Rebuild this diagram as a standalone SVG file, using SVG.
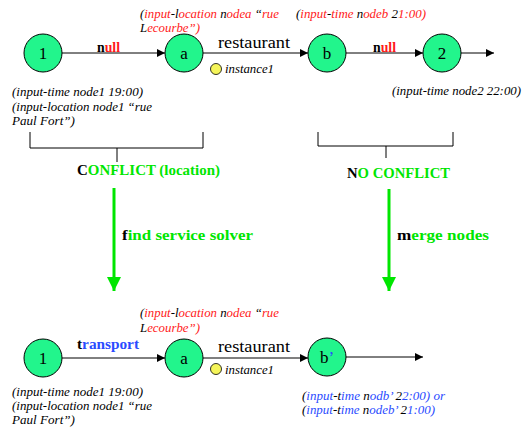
<svg xmlns="http://www.w3.org/2000/svg" width="525" height="430" viewBox="0 0 525 430">
<defs>
<marker id="ah" viewBox="0 0 10 10" refX="10" refY="5" markerWidth="10" markerHeight="8" markerUnits="userSpaceOnUse" orient="auto"><path d="M0,0 L10,5 L0,10 z" fill="#000"/></marker>
<marker id="gh" viewBox="0 0 10 10" refX="10" refY="5" markerWidth="15" markerHeight="14" markerUnits="userSpaceOnUse" orient="auto"><path d="M0,0 L10,5 L0,10 z" fill="#00e600"/></marker>
</defs>
<style>
text{font-family:'Liberation Serif','Times New Roman',serif}
.node{fill:#22f58c;stroke:#000;stroke-width:1}
.nl{font-size:17px;fill:#000;text-anchor:middle}
.it{font-size:13px;font-style:italic;fill:#000}
.lb{font-size:14px;font-weight:bold;fill:#000}
.rs{font-size:16px;fill:#000}
.r{fill:#ff1a1a}
.b{fill:#2a4bff}
.g{fill:#00e600}
.edge{stroke:#000;stroke-width:1;fill:none}
.br{stroke:#000;stroke-width:1;fill:none}
.ga{stroke:#00e600;stroke-width:3;fill:none}
.inst{fill:#f5f55a;stroke:#000;stroke-width:0.8}
</style>
<rect width="525" height="430" fill="#fff"/>
<g id="connectors">
<line class="edge" x1="62" y1="53" x2="165" y2="53" marker-end="url(#ah)"/>
<line class="edge" x1="203" y1="53" x2="308" y2="53" marker-end="url(#ah)"/>
<line class="edge" x1="346" y1="53" x2="423" y2="53" marker-end="url(#ah)"/>
<line class="edge" x1="461" y1="53" x2="494" y2="53" marker-end="url(#ah)"/>
<line class="edge" x1="62" y1="358" x2="165" y2="358" marker-end="url(#ah)"/>
<line class="edge" x1="203" y1="358" x2="308" y2="358" marker-end="url(#ah)"/>
<line class="edge" x1="346" y1="357" x2="423" y2="357" marker-end="url(#ah)"/>
<polyline class="br" points="30,132 30,148 203,148 203,132"/>
<line class="br" x1="117" y1="148" x2="117" y2="162"/>
<polyline class="br" points="318,132 318,146 453,146 453,132"/>
<line class="br" x1="386" y1="146" x2="386" y2="158"/>
<line class="ga" x1="114" y1="188" x2="114" y2="291" marker-end="url(#gh)"/>
<line class="ga" x1="389" y1="189" x2="389" y2="291" marker-end="url(#gh)"/>
</g>
<g id="n1top"><circle class="node" cx="43" cy="53" r="19"/><text class="nl" x="43" y="59">1</text></g>
<g id="natop"><circle class="node" cx="184" cy="53" r="19"/><text class="nl" x="184" y="59">a</text></g>
<g id="nbtop"><circle class="node" cx="327" cy="53" r="19"/><text class="nl" x="327" y="59">b</text></g>
<g id="n2top"><circle class="node" cx="442" cy="53" r="19"/><text class="nl" x="442" y="59">2</text></g>
<g id="n1bot"><circle class="node" cx="43" cy="358" r="19"/><text class="nl" x="43" y="364">1</text></g>
<g id="nabot"><circle class="node" cx="184" cy="358" r="19"/><text class="nl" x="184" y="364">a</text></g>
<g id="nbbot"><circle class="node" cx="327" cy="357" r="19"/><text class="nl" x="327" y="363">b<tspan class="b">’</tspan></text></g>
<g id="labels">
<text class="lb" x="97" y="52" textLength="23" lengthAdjust="spacingAndGlyphs">n<tspan class="r">ull</tspan></text>
<text class="rs" x="218" y="48" textLength="72" lengthAdjust="spacingAndGlyphs">restaurant</text>
<text class="lb" x="373" y="52" textLength="23" lengthAdjust="spacingAndGlyphs">n<tspan class="r">ull</tspan></text>
<circle class="inst" cx="216" cy="69" r="5.5"/>
<text class="it" x="225" y="73" textLength="49" lengthAdjust="spacingAndGlyphs">instance1</text>
<text class="it" x="140" y="18" textLength="139" lengthAdjust="spacingAndGlyphs">(<tspan class="r">input</tspan>-l<tspan class="r">ocation</tspan> n<tspan class="r">odea</tspan> “<tspan class="r">rue</tspan></text>
<text class="it" x="140" y="32" textLength="60" lengthAdjust="spacingAndGlyphs">L<tspan class="r">ecourbe”)</tspan></text>
<text class="it" x="296" y="18" textLength="130" lengthAdjust="spacingAndGlyphs">(<tspan class="r">input</tspan>-<tspan class="r">time</tspan> n<tspan class="r">odeb</tspan> 2<tspan class="r">1:00)</tspan></text>
<text class="it" x="12" y="96" textLength="131" lengthAdjust="spacingAndGlyphs">(input-time node1 19:00)</text>
<text class="it" x="12" y="111" textLength="140" lengthAdjust="spacingAndGlyphs">(input-location node1 “rue</text>
<text class="it" x="12" y="125" textLength="63" lengthAdjust="spacingAndGlyphs">Paul Fort”)</text>
<text class="it" x="392" y="95" textLength="129" lengthAdjust="spacingAndGlyphs">(input-time node2 22:00)</text>
<text class="lb" x="77" y="175" textLength="143" lengthAdjust="spacingAndGlyphs">C<tspan class="g">ONFLICT (location)</tspan></text>
<text class="lb" x="347" y="178" textLength="103" lengthAdjust="spacingAndGlyphs">N<tspan class="g">O CONFLICT</tspan></text>
<text class="lb" x="122" y="240" textLength="131" lengthAdjust="spacingAndGlyphs">f<tspan class="g">ind service solver</tspan></text>
<text class="lb" x="397" y="240" textLength="92" lengthAdjust="spacingAndGlyphs">m<tspan class="g">erge nodes</tspan></text>
<text class="lb" x="77" y="349" textLength="62" lengthAdjust="spacingAndGlyphs">t<tspan class="b">ransport</tspan></text>
<text class="it" x="140" y="317" textLength="139" lengthAdjust="spacingAndGlyphs">(<tspan class="r">input</tspan>-l<tspan class="r">ocation</tspan> n<tspan class="r">odea</tspan> “<tspan class="r">rue</tspan></text>
<text class="it" x="140" y="332" textLength="60" lengthAdjust="spacingAndGlyphs">L<tspan class="r">ecourbe”)</tspan></text>
<text class="rs" x="218" y="352" textLength="72" lengthAdjust="spacingAndGlyphs">restaurant</text>
<circle class="inst" cx="216" cy="369" r="5.5"/>
<text class="it" x="225" y="374" textLength="49" lengthAdjust="spacingAndGlyphs">instance1</text>
<text class="it" x="12" y="396" textLength="131" lengthAdjust="spacingAndGlyphs">(input-time node1 19:00)</text>
<text class="it" x="12" y="410" textLength="140" lengthAdjust="spacingAndGlyphs">(input-location node1 “rue</text>
<text class="it" x="12" y="424" textLength="63" lengthAdjust="spacingAndGlyphs">Paul Fort”)</text>
<text class="it" x="302" y="400" textLength="143" lengthAdjust="spacingAndGlyphs">(<tspan class="b">input</tspan>-t<tspan class="b">ime</tspan> n<tspan class="b">odb’</tspan> 2<tspan class="b">2:00) or</tspan></text>
<text class="it" x="302" y="414" textLength="133" lengthAdjust="spacingAndGlyphs">(<tspan class="b">input</tspan>-t<tspan class="b">ime</tspan> n<tspan class="b">odeb’</tspan> 2<tspan class="b">1:00)</tspan></text>
</g>
</svg>
